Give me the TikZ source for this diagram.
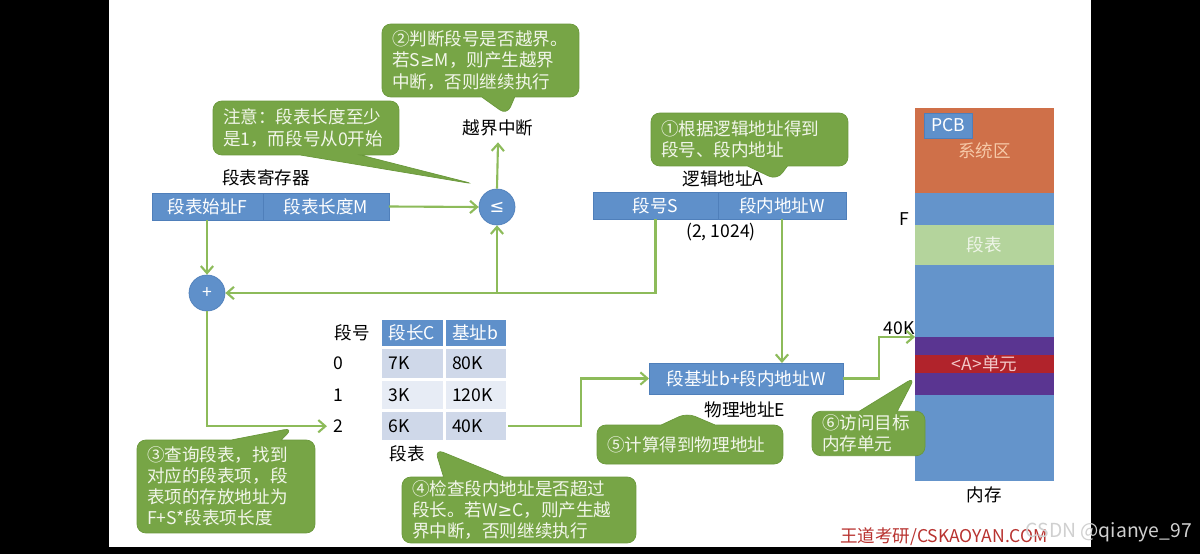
\documentclass[tikz,border=0pt]{standalone}
\usepackage{fontspec}
\setmainfont{Noto Sans CJK SC}
\newfontfamily\relsym{DejaVu Sans}
\usetikzlibrary{positioning,shapes.callouts,arrows.meta}

\definecolor{boxblue}{HTML}{5F90CA}
\definecolor{boxline}{HTML}{4F7FBA}
\definecolor{memblue}{HTML}{6494CB}
\definecolor{sysorange}{HTML}{CF7049}
\definecolor{systext}{HTML}{F6C9A8}
\definecolor{tablegreen}{HTML}{B4D49C}
\definecolor{paletext}{HTML}{EEF5E8}
\definecolor{bandpurple}{HTML}{5A3591}
\definecolor{cellred}{HTML}{B1232B}
\definecolor{pinktext}{HTML}{F3C8C8}
\definecolor{tipgreen}{HTML}{77A546}
\definecolor{tipline}{HTML}{6A983B}
\definecolor{tiptext}{HTML}{F2F6EA}
\definecolor{flowgreen}{HTML}{8DBB5A}
\definecolor{rowa}{HTML}{CFD8E9}
\definecolor{rowb}{HTML}{E7ECF5}
\definecolor{markred}{HTML}{B8322F}
\definecolor{csdngray}{HTML}{D0D0D0}

\begin{document}
\begin{tikzpicture}[x=0.02cm,y=-0.02cm,>={Straight Barb[length=4pt,width=7pt]},
    font=\fontsize{10}{12}\selectfont,
    blue box/.style={rectangle,fill=boxblue,draw=boxline,text=white,minimum height=0.54cm,inner sep=0pt,outer sep=0pt},
    op node/.style={circle,fill=boxblue,draw=boxline,text=white,minimum size=0.72cm,inner sep=0pt},
    tip box/.style={rectangle callout,fill=tipgreen,draw=tipline,text=tiptext,rounded corners=5pt,align=left,inner xsep=0.2cm,inner ysep=2pt},
    cell/.style={rectangle,draw=white,line width=0.8pt,minimum height=0.6cm,text width=0.96cm,inner xsep=0.14cm,inner ysep=0pt,align=left},
    mem/.style={rectangle,minimum width=2.78cm,inner sep=0pt,outer sep=0pt},
    flow/.style={->,draw=flowgreen,line width=1.2pt}]

    \fill[black] (0,0) rectangle (1200,554);
    \fill[white] (109,0) rectangle (1091,547);
    \useasboundingbox (0,0) rectangle (1200,554);

    % register
    \node[blue box,minimum width=2.22cm,anchor=west] (regF) at (152,206.5) {段表始址F};
    \node[blue box,minimum width=2.52cm,right=0pt of regF] (regM) {段表长度M};
    \node (regname) at (266,178) {段表寄存器};

    \node[op node] (cmp) at (497,207) {\relsym ≤};
    \node (ovf) at (498,128) {越界中断};
    \node[op node] (add) at (207,293) {+};

    % logical address
    \node[blue box,minimum width=2.5cm,anchor=west] (segS) at (593,205.5) {段号S};
    \node[blue box,minimum width=2.56cm,right=0pt of segS] (segW) {段内地址W};
    \node (logname) at (723,179) {逻辑地址A};
    \node (example) at (721,232) {(2, 1024)};

    % segment table
    \node (numhead) at (352,333) {段号};
    \node[cell,fill=boxblue,text=white,minimum height=0.56cm,anchor=west] (hlen) at (381,333) {段长C};
    \node[cell,fill=boxblue,text=white,minimum height=0.56cm,right=0pt of hlen] (hbase) {基址b};
    \node[cell,fill=rowa,below=0pt of hlen] (len0) {7K};
    \node[cell,fill=rowa,right=0pt of len0] (base0) {80K};
    \node[cell,fill=rowb,below=0pt of len0] (len1) {3K};
    \node[cell,fill=rowb,right=0pt of len1] (base1) {120K};
    \node[cell,fill=rowa,below=0pt of len1] (len2) {6K};
    \node[cell,fill=rowa,right=0pt of len2] (base2) {40K};
    \node (num0) at (338,0 |- len0) {0};
    \node (num1) at (338,0 |- len1) {1};
    \node (num2) at (338,0 |- len2) {2};
    \node (tabname) at (407,454) {段表};

    % physical address
    \node[blue box,minimum width=3.88cm,minimum height=0.62cm] (phys) at (746,378.5) {段基址b+段内地址W};
    \node (physname) at (745,410) {物理地址E};

    % memory
    \node[mem,fill=sysorange,text=systext,minimum height=1.7cm,anchor=north] (sys) at (984.5,108) {系统区};
    \node[mem,fill=memblue,minimum height=0.64cm,below=0pt of sys] (free1) {};
    \node[mem,fill=tablegreen,text=paletext,minimum height=0.8cm,below=0pt of free1] (segtab) {段表};
    \node[mem,fill=memblue,minimum height=1.44cm,below=0pt of segtab] (free2) {};
    \node[mem,fill=bandpurple,minimum height=0.36cm,below=0pt of free2] (band1) {};
    \node[mem,fill=cellred,text=pinktext,minimum height=0.36cm,font=\fontsize{10}{10}\selectfont,below=0pt of band1] (cellA) {<A>单元};
    \node[mem,fill=bandpurple,minimum height=0.44cm,below=0pt of cellA] (band2) {};
    \node[mem,fill=memblue,minimum height=1.72cm,below=0pt of band2] (free3) {};
    \node[blue box,minimum width=0.96cm,minimum height=0.5cm] (pcb) at (948,125.5) {PCB};
    \node (addrF) at (904,219) {F};
    \node (addr40) at (899,328) {40K};
    \node (memname) at (984,495) {内存};
    \coordinate (at40k) at (free2.south west);

    \draw[flow] (regM.east) -- (cmp.west);
    \draw[flow] (cmp.north) -- (ovf.south);
    \draw[flow] (add.north |- regF.south) -- (add.north);
    \draw[flow] (segS.south) |- (add.east);
    \coordinate (branch) at (cmp.south |- add.east);
    \draw[flow] (branch) -- (cmp.south);
    \draw[flow] (add.south) |- (num2.west);
    \draw[flow] (base2.east) -- ++(73,0) |- (phys.west);
    \draw[flow] (segW.south) -- (segW.south |- phys.north);
    \draw[flow] (phys.east) -- ++(36,0) |- (at40k);

    % callouts
    \node[tip box,text width=3.54cm,minimum height=1.06cm,callout absolute pointer={(777,180)},callout pointer width=0.8cm] (tip1) at (749.5,139.5) {①根据逻辑地址得到\\段号、段内地址};
    \node[tip box,text width=3.54cm,minimum height=1.46cm,callout absolute pointer={(507,115)},callout pointer width=0.66cm] (tip2) at (480.5,60.5) {②判断段号是否越界。\\若S{\relsym ≥}M，则产生越界\\中断，否则继续执行};
    \node[tip box,text width=3.32cm,minimum height=1.08cm,callout absolute pointer={(474,184)},callout pointer width=1.2cm] (note) at (306,128) {注意：段表长度至少\\是1，而段号从0开始};
    \node[tip box,text width=3.16cm,minimum height=1.86cm,callout absolute pointer={(293,428)},callout pointer width=1.0cm] (tip3) at (226,486.5) {③查询段表，找到\\对应的段表项，段\\表项的存放地址为\\F+S*段表项长度};
    \node[tip box,text width=4.28cm,minimum height=1.32cm,callout absolute pointer={(435,449)},callout pointer width=1.2cm] (tip4) at (519,510) {④检查段内地址是否超过\\段长。若W{\relsym ≥}C，则产生越\\界中断，否则继续执行};
    \node[tip box,text width=3.32cm,minimum height=0.78cm,callout absolute pointer={(687,413)},callout pointer width=1.08cm] (tip5) at (690,444.5) {⑤计算得到物理地址};
    \node[tip box,text width=1.86cm,minimum height=0.82cm,callout absolute pointer={(915,377)},callout pointer width=0.76cm] (tip6) at (868.5,433.5) {⑥访问目标\\内存单元};

    \node[text=markred] (brand) at (944,537) {王道考研/CSKAOYAN.COM};
    \node[text=csdngray,font=\fontsize{11}{13}\selectfont,anchor=east] (csdn) at (1198,532) {CSDN @qianye\_97};
\end{tikzpicture}
\end{document}
